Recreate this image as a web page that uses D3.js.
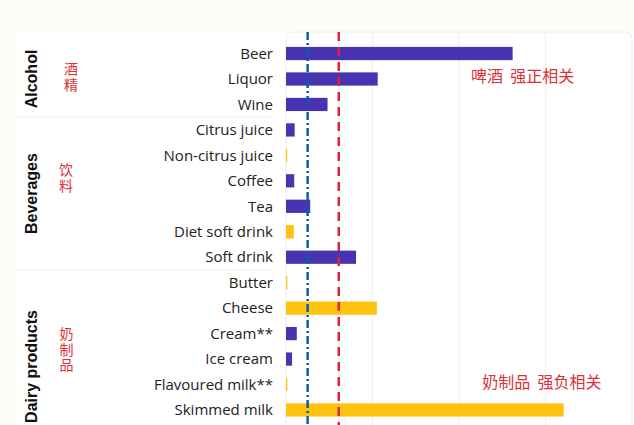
<!DOCTYPE html>
<html>
<head>
<meta charset="utf-8">
<script src="https://cdn.jsdelivr.net/npm/d3@7"></script>
<style>
  body { margin: 0; background: #fdfdf7; }
  svg { display: block; }
</style>
</head>
<body>
<div id="chart"></div>
<script>
const W = 634, H = 425;

// rows, top to bottom
const foods = ["Beer", "Liquor", "Wine", "Citrus juice", "Non-citrus juice", "Coffee", "Tea",
    "Diet soft drink", "Soft drink", "Butter", "Cheese", "Cream**", "Ice cream",
    "Flavoured milk**", "Skimmed milk"];
const values = [2.62, 1.06, 0.48, 0.10, 0.01, 0.095, 0.28, 0.09, 0.81, 0.015, 1.05, 0.125, 0.07, 0.015, 3.21];
const direction = ["pos", "pos", "pos", "pos", "neg", "pos", "pos", "neg", "pos", "neg", "neg", "pos", "pos", "neg", "neg"];

const groups = ["Alcohol", "Beverages", "Dairy products"];
const groupStart = ["Beer", "Citrus juice", "Butter"];
const groupEnd = ["Wine", "Soft drink", "Skimmed milk"];
const groupCn = ["酒精", "饮料", "奶制品"];

const xTicks = [1, 2, 3];
const blueRef = 0.25, redRef = 0.61;

const notes = [
    {text: "啤酒  强正相关", x: 2.14, row: "Liquor"},
    {text: "奶制品  强负相关", x: 2.27, row: "Flavoured milk**"}
];

const margin = {top: 32, left: 286, right: 2};

const svg = d3.select("#chart").append("svg")
    .attr("width", W).attr("height", H);

const x = d3.scaleLinear()
    .domain([0, 4])
    .range([margin.left, W - margin.right]);

const y = d3.scaleBand()
    .domain(foods)
    .range([40.8, 422.7])
    .paddingInner(0.48)
    .paddingOuter(0.24);

const step = y.step();
const colors = {pos: "#4a33b1", neg: "#ffc20e"};

// white card behind labels + plot
svg.append("rect")
    .attr("x", 16).attr("y", margin.top)
    .attr("width", W - 16).attr("height", H)
    .attr("fill", "#ffffff");

// plot panel
svg.append("rect")
    .attr("x", x(0)).attr("y", margin.top)
    .attr("width", x(4) - x(0)).attr("height", H)
    .attr("rx", 6)
    .attr("fill", "#ffffff")
    .attr("stroke", "#ececec");

// grid
svg.append("g").selectAll("line")
    .data(xTicks)
    .enter().append("line")
    .attr("x1", d => x(d)).attr("x2", d => x(d))
    .attr("y1", margin.top + 1).attr("y2", H)
    .attr("stroke", "#efefef")
    .attr("stroke-width", 1.2);

// group separators
svg.append("g").selectAll("line")
    .data(groupEnd.slice(0, -1))
    .enter().append("line")
    .attr("x1", 16).attr("x2", 272)
    .attr("y1", d => y(d) + y.bandwidth() + (step - y.bandwidth()) / 2)
    .attr("y2", d => y(d) + y.bandwidth() + (step - y.bandwidth()) / 2)
    .attr("stroke", "#f0f0f0")
    .attr("stroke-width", 1.2);

// bars
svg.append("g").selectAll("rect")
    .data(foods)
    .enter().append("rect")
    .attr("x", x(0))
    .attr("y", d => y(d))
    .attr("width", (d, i) => Math.max(1.2, x(values[i]) - x(0)))
    .attr("height", y.bandwidth())
    .attr("fill", (d, i) => colors[direction[i]]);

// reference lines
svg.append("line")
    .attr("x1", x(blueRef)).attr("x2", x(blueRef))
    .attr("y1", margin.top).attr("y2", H)
    .attr("stroke", "#0b5cae")
    .attr("stroke-width", 2.5)
    .attr("stroke-dasharray", "8,3,2,3");

svg.append("line")
    .attr("x1", x(redRef)).attr("x2", x(redRef))
    .attr("y1", margin.top).attr("y2", H)
    .attr("stroke", "#db2438")
    .attr("stroke-width", 2.5)
    .attr("stroke-dasharray", "9,6");

// food labels
svg.append("g").selectAll("text")
    .data(foods)
    .enter().append("text")
    .attr("x", 273)
    .attr("y", d => y(d) + y.bandwidth() / 2)
    .attr("dy", "0.35em")
    .attr("text-anchor", "end")
    .style("font-family", "'Open Sans', sans-serif")
    .style("font-size", "15px")
    .style("fill", "#222")
    .text(d => d);

// group labels (last group runs past the bottom of the picture)
const groupMid = groups.map((g, i) => {
    const top = y(groupStart[i]) - (step - y.bandwidth()) / 2;
    const bottom = i === groups.length - 1 ? 463 : y(groupEnd[i]) + y.bandwidth() + (step - y.bandwidth()) / 2;
    return (top + bottom) / 2;
});

svg.append("g").selectAll("text")
    .data(groups)
    .enter().append("text")
    .attr("transform", (d, i) => `translate(37, ${groupMid[i]}) rotate(-90)`)
    .attr("text-anchor", "middle")
    .style("font-family", "'Liberation Sans', Arial, sans-serif")
    .style("font-weight", "bold")
    .style("font-size", "16px")
    .style("fill", "#111")
    .text(d => d);

// chinese vertical notes next to groups
const cnX = [71, 66, 66.5];
const cnTop = [62, 163, 327];
svg.append("g").selectAll("text")
    .data(groupCn)
    .enter().append("text")
    .attr("x", (d, i) => cnX[i])
    .attr("y", (d, i) => cnTop[i])
    .style("writing-mode", "vertical-rl")
    .style("letter-spacing", "1.5px")
    .style("font-family", "'Noto Sans CJK SC', sans-serif")
    .style("font-size", "14px")
    .style("fill", "#dc3036")
    .text(d => d);

// right side notes
svg.append("g").selectAll("text")
    .data(notes)
    .enter().append("text")
    .attr("x", d => x(d.x))
    .attr("y", d => y(d.row) + y.bandwidth() / 2 - 3)
    .attr("dy", "0.38em")
    .style("font-family", "'Noto Sans CJK SC', sans-serif")
    .style("font-size", "16px")
    .style("fill", "#dc3036")
    .style("white-space", "pre")
    .text(d => d.text);
</script>
</body>
</html>
